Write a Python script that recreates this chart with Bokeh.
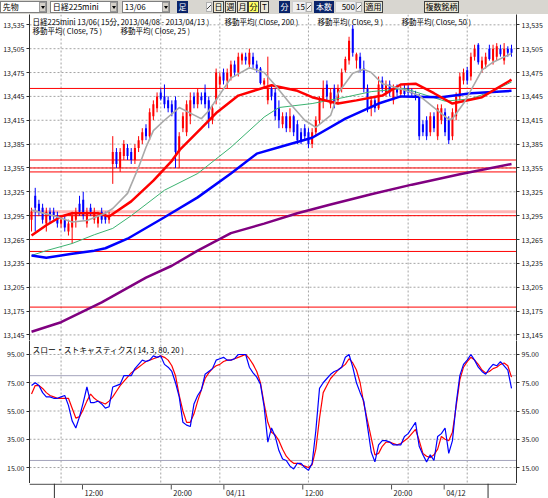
from bokeh.plotting import figure
from bokeh.models import (Range1d, LinearAxis, FixedTicker, NumeralTickFormatter,
                          Span, Label, Div, ColumnDataSource)
from bokeh.layouts import column
from bokeh.embed import file_html
from bokeh.resources import INLINE
from bokeh.core.properties import value

# ---------------- data ----------------
bars = list(range(131))

opens = [13290,13320,13310,13305,13285,13300,13300,13295,13285,13290,
         13275,13280,13290,13310,13315,13285,13305,13290,13285,13300,
         13295,13290,13360,13375,13355,13370,13380,13375,13365,13380,
         13390,13405,13395,13420,13430,13450,13445,13440,13435,13440,
         13375,13405,13400,13420,13445,13435,13445,13450,13440,13415,
         13440,13460,13475,13465,13470,13485,13475,13490,13495,13485,
         13495,13485,13480,13460,13440,13455,13450,13430,13410,13420,
         13405,13420,13410,13400,13405,13400,13385,13400,13415,13440,
         13460,13435,13455,13440,13455,13478,13490,13530,13490,13495,
         13480,13455,13430,13440,13430,13465,13450,13460,13440,13455,
         13448,13455,13455,13450,13448,13445,13410,13415,13400,13420,
         13395,13415,13425,13415,13395,13420,13445,13465,13478,13470,
         13495,13510,13480,13485,13505,13490,13495,13505,13490,13505,
         13505]
highs = [13305,13330,13315,13310,13305,13305,13305,13300,13295,13295,
         13290,13300,13305,13320,13325,13305,13310,13305,13300,13305,
         13300,13300,13395,13380,13380,13390,13385,13380,13385,13395,
         13405,13410,13430,13440,13450,13455,13460,13445,13440,13445,
         13400,13425,13440,13450,13450,13455,13450,13460,13445,13435,
         13480,13475,13480,13480,13490,13490,13500,13500,13500,13505,
         13500,13490,13482,13468,13495,13460,13455,13440,13425,13425,
         13430,13422,13415,13405,13410,13405,13405,13420,13445,13465,
         13465,13455,13460,13460,13480,13495,13520,13535,13500,13500,
         13490,13460,13445,13445,13470,13470,13465,13465,13460,13460,
         13458,13460,13460,13455,13452,13448,13415,13420,13425,13425,
         13435,13435,13430,13420,13430,13450,13475,13480,13482,13500,
         13510,13512,13495,13500,13510,13510,13512,13510,13512,13508,
         13510]
lows = [13275,13275,13295,13285,13275,13285,13290,13280,13280,13275,
        13270,13260,13280,13295,13290,13280,13295,13285,13280,13285,
        13285,13285,13335,13355,13350,13365,13365,13360,13360,13375,
        13385,13390,13390,13415,13425,13440,13430,13425,13420,13355,
        13355,13400,13395,13410,13430,13430,13435,13430,13405,13410,
        13435,13455,13460,13455,13465,13470,13470,13485,13485,13480,
        13480,13475,13460,13455,13435,13440,13415,13405,13405,13400,
        13400,13395,13385,13385,13390,13380,13380,13395,13410,13430,
        13440,13430,13430,13435,13450,13475,13485,13495,13480,13475,
        13450,13425,13420,13425,13428,13450,13445,13445,13435,13445,
        13443,13445,13445,13445,13440,13390,13395,13390,13395,13400,
        13390,13410,13395,13385,13390,13415,13440,13460,13460,13465,
        13490,13485,13475,13480,13490,13485,13490,13495,13485,13495,
        13495]
closes = [13300,13305,13300,13290,13300,13290,13295,13285,13290,13280,
          13285,13295,13300,13300,13295,13300,13300,13300,13295,13290,
          13290,13295,13375,13360,13375,13385,13370,13365,13380,13390,
          13400,13395,13425,13435,13445,13442,13435,13430,13425,13375,
          13395,13420,13435,13440,13435,13450,13440,13435,13415,13430,
          13475,13470,13465,13475,13485,13475,13495,13498,13490,13500,
          13485,13480,13462,13465,13455,13445,13420,13415,13420,13405,
          13420,13400,13390,13390,13395,13385,13400,13415,13440,13455,
          13445,13450,13435,13455,13475,13492,13515,13500,13498,13480,
          13455,13430,13440,13430,13460,13455,13460,13450,13455,13450,
          13455,13448,13450,13448,13445,13395,13400,13395,13420,13405,
          13430,13430,13400,13390,13425,13445,13470,13475,13465,13495,
          13505,13488,13490,13495,13492,13505,13508,13498,13505,13500,
          13500]

ma200_bar = [0, 8, 19, 31, 38, 45, 54, 63, 72, 81, 92, 103, 116, 130]
ma200_val = [13149, 13161, 13186, 13217, 13232, 13251, 13273, 13285, 13298,
             13309, 13322, 13334, 13347, 13360]

ma75_bar = [0, 4, 11, 17, 20, 26, 36, 45, 54, 61, 67, 76, 85, 94, 100, 111, 119, 130]
ma75_val = [13245, 13242, 13247, 13251, 13254, 13266, 13293, 13318, 13348, 13373,
            13381, 13393, 13417, 13436, 13445, 13444, 13449, 13452]

ma50_bar = [0, 4, 11, 17, 22, 27, 36, 45, 54, 63, 67, 76, 85, 92, 101, 112, 119, 125, 130]
ma50_val = [13245, 13251, 13260, 13271, 13279, 13295, 13327, 13348, 13381, 13419,
            13431, 13436, 13444, 13451, 13455, 13439, 13442, 13452, 13463]

ma25_bar = [0, 4, 8, 11, 18, 21, 27, 33, 38, 40, 46, 50, 56, 65, 72, 76, 83, 88,
            95, 100, 104, 109, 114, 122, 130]
ma25_val = [13270, 13283, 13294, 13298, 13298, 13294, 13313, 13339, 13364, 13377,
            13405, 13424, 13446, 13459, 13452, 13444, 13436, 13440, 13446, 13460,
            13461, 13449, 13436, 13444, 13466]

ma9_bar = [0, 6, 11, 15, 20, 22, 26, 29, 31, 33, 36, 40, 43, 46, 48, 54, 59, 63,
           66, 70, 74, 77, 81, 83, 87, 90, 92, 95, 101, 105, 109, 113, 114, 117,
           120, 122, 125, 130]
ma9_val = [13302, 13295, 13287, 13289, 13298, 13304, 13323, 13356, 13381, 13402,
           13415, 13431, 13424, 13417, 13427, 13468, 13481, 13475, 13459, 13436,
           13415, 13406, 13421, 13449, 13474, 13479, 13475, 13461, 13453, 13446,
           13431, 13416, 13417, 13436, 13461, 13478, 13488, 13499]

stoch_k = [73,75,73,68,65,65,64,64,65,66,
           59,48,43,51,61,72,61,61,62,60,
           57,58,72,73,74,80,80,80,85,88,
           91,90,91,94,93,94,88,86,83,75,
           65,47,45,44,60,66,70,81,83,85,
           91,92,93,91,91,92,95,95,95,86,
           82,79,74,58,33,43,37,27,21,20,
           16,14,18,18,15,13,18,41,71,75,
           78,81,83,84,86,93,95,86,75,68,
           62,44,26,19,31,34,34,33,31,31,
           31,37,39,43,47,30,24,19,24,20,
           37,39,43,25,34,60,80,88,91,95,
           91,86,83,81,85,88,87,90,87,84,
           71]
stoch_d = [67,73,73,71,68,66,65,64,64,64,
           64,57,50,51,56,62,67,64,62,61,
           60,62,65,69,73,76,79,82,84,86,
           88,90,91,92,93,94,93,91,87,80,
           66,55,47,47,53,62,70,78,82,85,
           87,88,90,91,91,92,93,94,95,92,
           88,83,75,60,47,40,38,34,28,23,
           20,18,18,17,16,15,17,28,50,68,
           73,78,81,84,86,88,92,89,84,75,
           60,48,36,24,25,30,33,33,32,31,
           32,34,36,39,42,34,25,23,22,24,
           28,37,35,34,40,58,77,86,90,93,
           91,88,84,82,83,85,86,88,89,87,
           79]

price_ticks = [13145, 13175, 13205, 13235, 13265, 13295, 13325, 13355,
               13385, 13415, 13445, 13475, 13505, 13535]
stoch_ticks = [15, 35, 55, 75, 95]
time_tick_bars = [8, 35, 51, 75, 102, 118]
time_tick_labels = ["12:00", "20:00", "04/11", "12:00", "20:00", "04/12"]
level_lines = [13455, 13365, 13355, 13350, 13295, 13265, 13250, 13180]
pink_level = 13300
stoch_levels = [80, 20]

title_row1 = [("日経225mini 13/06( 15分, 2013/04/08 - 2013/04/13 )", 3),
              ("移動平均( Close, 200 )", 195),
              ("移動平均( Close, 9 )", 288),
              ("移動平均( Close, 50 )", 372)]
title_row2 = [("移動平均( Close, 75 )", 3),
              ("移動平均( Close, 25 )", 91)]
stoch_title = "スロー・ストキャスティクス( 14, 3, 80, 20 )"

# ---------------- styling ----------------
FONT = "Noto Sans CJK JP"
W = 548
LB, RB = 28, 32
GRID = "#a4a4a4"
X0, X1 = -0.55, 131.35
PXB = (W - LB - RB) / (X1 - X0)          # pixels per bar
xr = Range1d(X0, X1)


def clean(p):
    p.outline_line_color = None
    p.background_fill_color = "white"
    p.border_fill_color = "white"
    p.grid.visible = False


def style_yaxis(ax, ticks, fmt):
    ax.ticker = FixedTicker(ticks=ticks)
    ax.formatter = NumeralTickFormatter(format=fmt)
    ax.axis_line_color = "#303030"
    ax.axis_line_width = 1
    ax.major_tick_line_color = "#303030"
    ax.major_tick_out = 3
    ax.major_tick_in = 0
    ax.minor_tick_out = 0
    ax.minor_tick_in = 0
    ax.major_label_standoff = 2
    ax.major_label_text_font = FONT
    ax.major_label_text_font_size = "7px"
    ax.major_label_text_color = "#202020"


def add_grid_spans(p, yticks):
    for b in time_tick_bars:
        p.add_layout(Span(location=b, dimension="height", line_color=GRID,
                          line_dash="2 2", line_width=1, level="underlay"))
    for t in yticks:
        p.add_layout(Span(location=t, dimension="width", line_color=GRID,
                          line_dash="2 2", line_width=1, level="underlay"))


# ---------------- toolbar ----------------
def box(left, width, text, bg="#ffffff", fg="#000000", border="#7f7f7f", align="left"):
    return (f'<div style="position:absolute;left:{left}px;top:1px;width:{width}px;height:12px;'
            f'box-sizing:border-box;background:{bg};color:{fg};border:1px solid {border};'
            f'font-size:8px;line-height:10px;text-align:{align};padding:0;'
            f'white-space:nowrap;">{text}</div>')


def arrow(left):
    return (f'<div style="position:absolute;left:{left}px;top:2px;width:7px;height:10px;'
            f'background:#d4d0c8;border:1px solid #9a9a9a;box-sizing:border-box;">'
            f'<div style="position:absolute;left:1px;top:3px;width:0;height:0;'
            f'border-left:2px solid transparent;border-right:2px solid transparent;'
            f'border-top:3px solid #000;"></div></div>')


def pencil(left):
    return (f'<div style="position:absolute;left:{left}px;top:2px;width:6px;height:10px;'
            f'background:linear-gradient(135deg,#f4f4f4 42%,#404040 50%,#f4f4f4 58%);'
            f'border:1px solid #b0b0b0;box-sizing:border-box;"></div>')


NAVY = "#0a246a"
BTN = "#ece9d8"
tb = [
    box(0, 47, "&nbsp;先物"), arrow(39),
    box(50, 68, "&nbsp;日経225mini"), arrow(110),
    box(122, 48, "&nbsp;13/06"), arrow(162),
    box(177, 11, "足", bg=NAVY, fg="#ffffff", border=NAVY, align="center"),
    pencil(206),
    box(213, 11, "日", bg=BTN, border="#404040", align="center"),
    box(225, 11, "週", bg=BTN, border="#404040", align="center"),
    box(237, 11, "月", bg=BTN, border="#404040", align="center"),
    box(248, 11, "分", bg="#ffff66", border="#404040", align="center"),
    box(260, 9, "T", bg=BTN, border="#404040", align="center"),
    box(279, 11, "分", bg=NAVY, fg="#ffffff", border=NAVY, align="center"),
    box(292, 14, "15", bg="#f0f0f0", border="#d0d0d0", align="right"),
    pencil(306),
    box(314, 20, "本数", bg=NAVY, fg="#ffffff", border=NAVY, align="center"),
    box(335, 21, "500", bg="#f0f0f0", border="#d0d0d0", align="right"),
    pencil(356),
    box(364, 19, "適用", bg=BTN, border="#404040", align="center"),
    box(424, 35, "複数銘柄", bg=BTN, border="#404040", align="center"),
]
toolbar_html = ('<div style="position:relative;width:548px;height:14px;background:#d8d6d0;'
                'overflow:hidden;font-family:\'Noto Sans CJK JP\',sans-serif;">'
                + "".join(tb) + '</div>')
toolbar = Div(text=toolbar_html, width=W, height=14, margin=(0, 0, 0, 0))

# ---------------- price panel ----------------
p1 = figure(width=W, height=326, x_range=xr, y_range=Range1d(13138, 13548),
            output_backend="svg", toolbar_location=None, x_axis_location=None,
            min_border_left=LB, min_border_right=RB, min_border_top=0, min_border_bottom=0)
clean(p1)
add_grid_spans(p1, price_ticks)

for lv in level_lines:
    p1.add_layout(Span(location=lv, dimension="width", line_color="#ff0000",
                       line_width=1, level="underlay"))
p1.add_layout(Span(location=pink_level, dimension="width", line_color="#ffb4b4",
                   line_width=3, level="underlay"))

colors = ["#ff0000" if c >= o else "#0000ff" for o, c in zip(opens, closes)]
src = ColumnDataSource(dict(x=bars, o=opens, h=highs, l=lows, c=closes, color=colors))
p1.segment(x0="x", y0="l", x1="x", y1="h", line_color="color", line_width=1, source=src)
p1.vbar(x="x", top="o", bottom="c", width=0.55, fill_color="color", line_color=None, source=src)

p1.line(ma200_bar, ma200_val, line_color="#800080", line_width=2.5)
p1.line(ma50_bar, ma50_val, line_color="#3cb371", line_width=1)
p1.line(ma75_bar, ma75_val, line_color="#0000ff", line_width=2.5)
p1.line(ma25_bar, ma25_val, line_color="#ff0000", line_width=2.5)
p1.line(ma9_bar, ma9_val, line_color="#a9a9a9", line_width=1.6)

p1.add_layout(LinearAxis(), "right")
for ax in p1.yaxis:
    style_yaxis(ax, price_ticks, "0,0")

for txt, off in title_row1:
    p1.add_layout(Label(x=X0, y=13548, x_offset=off, y_offset=-1, text=txt,
                        text_font=FONT, text_font_size="7.5px", text_color="#000000",
                        text_baseline="top", text_align="left"))
for txt, off in title_row2:
    p1.add_layout(Label(x=X0, y=13548, x_offset=off, y_offset=-10, text=txt,
                        text_font=FONT, text_font_size="7.5px", text_color="#000000",
                        text_baseline="top", text_align="left"))

# ---------------- stochastic panel ----------------
S0, S1 = 3.7, 104.9
p2 = figure(width=W, height=143, x_range=xr, y_range=Range1d(S0, S1),
            output_backend="svg", toolbar_location=None, x_axis_location=None,
            min_border_left=LB, min_border_right=RB, min_border_top=0, min_border_bottom=0)
clean(p2)
add_grid_spans(p2, stoch_ticks)
for lv in stoch_levels:
    p2.add_layout(Span(location=lv, dimension="width", line_color="#a4a4bc",
                       line_width=1, level="underlay"))

p2.line(bars, stoch_d, line_color="#ff0000", line_width=1.2)
p2.line(bars, stoch_k, line_color="#0000ff", line_width=1.2)

p2.add_layout(LinearAxis(), "right")
for ax in p2.yaxis:
    style_yaxis(ax, stoch_ticks, "0.00")

p2.add_layout(Label(x=X0, y=S1, x_offset=3, y_offset=-3, text=stoch_title,
                    text_font=FONT, text_font_size="7.8px", text_color="#000000",
                    text_baseline="top", text_align="left"))

# ---------------- time axis strip ----------------
H3 = 15
x3 = Range1d(X0 - LB / PXB, X1 + RB / PXB)
p3 = figure(width=W, height=H3, x_range=x3, y_range=Range1d(0, H3),
            output_backend="svg", toolbar_location=None,
            x_axis_location=None, y_axis_location=None,
            min_border_left=0, min_border_right=0, min_border_top=0, min_border_bottom=0)
clean(p3)
p3.add_layout(Span(location=H3 - 0.8, dimension="width", line_color="#707070", line_width=1.5))
for xb in (X0, X1):
    p3.add_layout(Span(location=xb, dimension="height", line_color="#303030", line_width=1))
p3.segment(x0=time_tick_bars, y0=[H3 - 0.8] * len(time_tick_bars),
           x1=time_tick_bars, y1=[H3 - 6] * len(time_tick_bars),
           line_color="#505050", line_width=1)
p3.text(x=time_tick_bars, y=[H3 - 3.5] * len(time_tick_bars), text=time_tick_labels,
        text_font=value(FONT), text_font_size="7.5px", text_color="#202020",
        text_baseline="top", text_align="left", x_offset=2)

layout = column(toolbar, p1, p2, p3, spacing=0)
open("out.html", "w").write(file_html(layout, INLINE, title="chart"))
